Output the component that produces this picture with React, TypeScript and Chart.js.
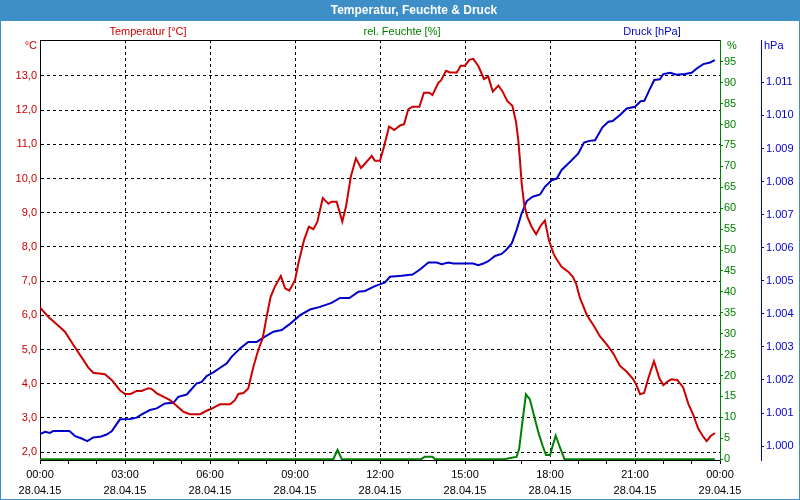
import React, { useEffect, useRef } from 'react';
import { Chart, registerables } from 'chart.js';

Chart.register(...registerables);

// ---------- data (time in hours since 28.04.15 00:00) ----------
const tempTimes = [0, 0.29, 0.59, 0.88, 1.18, 1.47, 1.7, 1.88, 2.29, 2.53, 2.82, 3.0, 3.2, 3.41, 3.59, 3.82, 3.94, 4.12, 4.35, 4.59, 4.76, 5.06, 5.29, 5.65, 5.88, 6.06, 6.35, 6.71, 6.88, 7.0, 7.18, 7.35, 7.53, 7.7, 7.86, 8.0, 8.14, 8.29, 8.5, 8.65, 8.8, 9.0, 9.12, 9.32, 9.49, 9.65, 9.79, 9.98, 10.18, 10.29, 10.47, 10.67, 10.8, 10.97, 11.15, 11.33, 11.53, 11.71, 11.82, 12.0, 12.14, 12.32, 12.5, 12.71, 12.85, 13.0, 13.15, 13.39, 13.55, 13.74, 13.85, 14.06, 14.15, 14.33, 14.47, 14.71, 14.85, 15.0, 15.15, 15.29, 15.47, 15.67, 15.82, 15.98, 16.18, 16.33, 16.49, 16.67, 16.8, 16.88, 16.94, 17.0, 17.09, 17.2, 17.35, 17.51, 17.67, 17.82, 17.96, 18.12, 18.21, 18.41, 18.65, 18.8, 18.92, 19.06, 19.3, 19.55, 19.76, 20.0, 20.23, 20.47, 20.71, 20.94, 21.05, 21.18, 21.32, 21.47, 21.67, 21.86, 22.0, 22.17, 22.29, 22.49, 22.7, 22.88, 23.06, 23.23, 23.39, 23.53, 23.67, 23.82];
const tempValues = [6.23, 5.96, 5.74, 5.52, 5.13, 4.77, 4.48, 4.32, 4.28, 4.11, 3.81, 3.7, 3.7, 3.79, 3.79, 3.87, 3.85, 3.72, 3.62, 3.52, 3.4, 3.18, 3.11, 3.11, 3.21, 3.27, 3.4, 3.4, 3.52, 3.7, 3.73, 3.86, 4.49, 4.98, 5.33, 5.96, 6.54, 6.84, 7.15, 6.79, 6.72, 7.03, 7.52, 8.2, 8.59, 8.52, 8.74, 9.43, 9.26, 9.32, 9.32, 8.74, 9.18, 10.05, 10.59, 10.31, 10.49, 10.66, 10.52, 10.52, 10.93, 11.52, 11.42, 11.55, 11.59, 12.03, 12.1, 12.1, 12.51, 12.51, 12.44, 12.8, 12.86, 13.15, 13.1, 13.1, 13.3, 13.3, 13.47, 13.5, 13.29, 12.91, 12.98, 12.54, 12.72, 12.54, 12.27, 12.13, 11.66, 11.13, 10.54, 9.86, 9.23, 8.88, 8.59, 8.37, 8.62, 8.77, 8.2, 7.81, 7.67, 7.42, 7.27, 7.13, 6.93, 6.5, 6.01, 5.69, 5.39, 5.15, 4.89, 4.52, 4.35, 4.13, 3.96, 3.69, 3.73, 4.16, 4.66, 4.16, 3.96, 4.08, 4.13, 4.11, 3.89, 3.42, 3.08, 2.69, 2.47, 2.32, 2.47, 2.56];

const pressTimes = [0, 0.18, 0.35, 0.47, 1.04, 1.24, 1.47, 1.67, 1.88, 2.12, 2.35, 2.53, 2.82, 3.18, 3.41, 3.59, 3.88, 4.12, 4.41, 4.71, 4.88, 5.18, 5.53, 5.71, 5.88, 6.12, 6.41, 6.59, 6.76, 7.06, 7.35, 7.65, 7.94, 8.24, 8.53, 8.8, 9.18, 9.53, 9.88, 10.29, 10.59, 10.92, 11.24, 11.47, 11.82, 12.18, 12.35, 12.76, 13.15, 13.41, 13.71, 14.0, 14.18, 14.41, 14.59, 15.29, 15.47, 15.65, 15.82, 16.06, 16.29, 16.45, 16.65, 16.82, 17.0, 17.18, 17.39, 17.65, 17.82, 18.06, 18.24, 18.41, 18.71, 19.0, 19.2, 19.39, 19.59, 19.85, 20.06, 20.21, 20.47, 20.71, 21.0, 21.2, 21.33, 21.53, 21.68, 21.88, 22.0, 22.24, 22.47, 22.76, 23.0, 23.18, 23.41, 23.65, 23.82];
const pressValues = [1000.36, 1000.43, 1000.4, 1000.46, 1000.46, 1000.3, 1000.23, 1000.15, 1000.26, 1000.28, 1000.35, 1000.45, 1000.81, 1000.82, 1000.86, 1000.96, 1001.09, 1001.14, 1001.29, 1001.31, 1001.49, 1001.56, 1001.9, 1001.94, 1002.12, 1002.23, 1002.4, 1002.5, 1002.7, 1002.95, 1003.15, 1003.15, 1003.31, 1003.46, 1003.51, 1003.68, 1003.96, 1004.13, 1004.21, 1004.33, 1004.48, 1004.48, 1004.67, 1004.69, 1004.84, 1004.95, 1005.12, 1005.15, 1005.19, 1005.34, 1005.55, 1005.55, 1005.5, 1005.55, 1005.52, 1005.52, 1005.47, 1005.52, 1005.59, 1005.75, 1005.81, 1005.93, 1006.13, 1006.53, 1007.04, 1007.41, 1007.54, 1007.61, 1007.84, 1008.04, 1008.09, 1008.35, 1008.6, 1008.85, 1009.18, 1009.23, 1009.25, 1009.64, 1009.81, 1009.83, 1010.01, 1010.21, 1010.26, 1010.43, 1010.44, 1010.81, 1011.07, 1011.09, 1011.25, 1011.29, 1011.23, 1011.25, 1011.29, 1011.42, 1011.55, 1011.6, 1011.67];

const humTimes = [0, 10.35, 10.5, 10.65, 13.45, 13.58, 13.85, 13.95, 16.4, 16.59, 16.82, 16.91, 17.03, 17.15, 17.29, 17.44, 17.59, 17.74, 17.86, 18.0, 18.06, 18.2, 18.33, 18.51, 23.82];
const humValues = [0, 0, 2.2, 0, 0, 0.55, 0.55, 0, 0, 0.3, 0.55, 2.4, 9.1, 15.5, 14.3, 10.3, 6.4, 3.2, 1.0, 1.0, 2.4, 5.6, 3.2, 0, 0];

// ---------- ticks & labels ----------
const hourTicks = [0, 3, 6, 9, 12, 15, 18, 21, 24];
const timeLabels = ['00:00', '03:00', '06:00', '09:00', '12:00', '15:00', '18:00', '21:00', '00:00'];
const dateLabels = ['28.04.15', '28.04.15', '28.04.15', '28.04.15', '28.04.15', '28.04.15', '28.04.15', '28.04.15', '29.04.15'];
const tempTicks = [2, 3, 4, 5, 6, 7, 8, 9, 10, 11, 12, 13];
const humTicks = [0, 5, 10, 15, 20, 25, 30, 35, 40, 45, 50, 55, 60, 65, 70, 75, 80, 85, 90, 95];
const pressTicks = [1000, 1001, 1002, 1003, 1004, 1005, 1006, 1007, 1008, 1009, 1010, 1011];

const TITLE = 'Temperatur, Feuchte & Druck';
const SERIES_LABELS = ['Temperatur [°C]', 'rel. Feuchte [%]', 'Druck [hPa]'];
const UNIT_LABELS = ['°C', '%', 'hPa'];

const RED = '#cc0000';
const GREEN = '#008000';
const BLUE = '#0000cc';
const BAR = '#3e8ec8';
const FONT = "'Liberation Sans', Arial, sans-serif";

const toPoints = (xs: number[], ys: number[]) => xs.map((x, i) => ({ x, y: ys[i] }));

const framePlugin = {
  id: 'frame',
  beforeDraw(chart: any) {
    const { ctx, width, height } = chart;
    ctx.save();
    ctx.fillStyle = '#ffffff';
    ctx.fillRect(0, 0, width, height);
    ctx.fillStyle = BAR;
    ctx.fillRect(0, 0, width, 21);
    ctx.fillRect(0, 0, 1, height);
    ctx.fillRect(width - 1, 0, 1, height);
    ctx.fillRect(0, height - 1, width, 1);
    ctx.restore();
  },
  afterDraw(chart: any) {
    const { ctx, chartArea } = chart;
    ctx.save();
    ctx.strokeStyle = '#000';
    ctx.lineWidth = 1;
    ctx.beginPath();
    ctx.moveTo(chartArea.left, chartArea.top + 0.5);
    ctx.lineTo(chartArea.right, chartArea.top + 0.5);
    ctx.stroke();

    ctx.textBaseline = 'middle';
    ctx.textAlign = 'center';
    ctx.font = `bold 12px ${FONT}`;
    ctx.fillStyle = '#ffffff';
    ctx.fillText(TITLE, 414, 11);

    ctx.font = `11px ${FONT}`;
    ctx.fillStyle = RED;
    ctx.fillText(SERIES_LABELS[0], 148, 32);
    ctx.fillStyle = GREEN;
    ctx.fillText(SERIES_LABELS[1], 402, 32);
    ctx.fillStyle = BLUE;
    ctx.fillText(SERIES_LABELS[2], 652, 32);

    ctx.textAlign = 'right';
    ctx.fillStyle = RED;
    ctx.fillText(UNIT_LABELS[0], 37, 46);
    ctx.textAlign = 'left';
    ctx.fillStyle = GREEN;
    ctx.fillText(UNIT_LABELS[1], 727, 46);
    ctx.fillStyle = BLUE;
    ctx.fillText(UNIT_LABELS[2], 764, 46);
    ctx.restore();
  },
};

export default function App() {
  const ref = useRef<HTMLCanvasElement>(null);

  useEffect(() => {
    if (!ref.current) return;
    const tickFont = { family: FONT, size: 11 };
    const chart = new Chart(ref.current, {
      type: 'line',
      data: {
        datasets: [
          {
            label: SERIES_LABELS[0],
            data: toPoints(tempTimes, tempValues),
            borderColor: RED,
            yAxisID: 'yT',
          },
          {
            label: SERIES_LABELS[1],
            data: toPoints(humTimes, humValues),
            borderColor: GREEN,
            yAxisID: 'yH',
          },
          {
            label: SERIES_LABELS[2],
            data: toPoints(pressTimes, pressValues),
            borderColor: BLUE,
            yAxisID: 'yP',
          },
        ],
      },
      options: {
        responsive: false,
        animation: false,
        devicePixelRatio: 1,
        layout: { padding: { top: 40, left: 0, right: 0, bottom: 0 } },
        elements: {
          point: { radius: 0 },
          line: { borderWidth: 2, tension: 0, fill: false },
        },
        plugins: {
          legend: { display: false },
          title: { display: false },
          tooltip: { enabled: false },
        },
        scales: {
          x: {
            type: 'linear',
            position: 'bottom',
            min: 0,
            max: 24,
            afterBuildTicks: (axis: any) => {
              const t = [];
              for (let h = 0; h <= 24; h++) t.push({ value: h });
              axis.ticks = t;
            },
            afterFit: (axis: any) => {
              axis.height = 40;
            },
            ticks: {
              autoSkip: false,
              maxRotation: 0,
              minRotation: 0,
              padding: 3,
              color: '#000',
              font: { ...tickFont, lineHeight: '16px' },
              callback: (v: any) => {
                const i = hourTicks.indexOf(Number(v));
                return i >= 0 ? [timeLabels[i], dateLabels[i]] : '';
              },
            },
            grid: {
              color: (c: any) => {
                const v = c.tick ? c.tick.value : -1;
                return v % 3 === 0 && v > 0 && v < 24 ? '#000' : 'rgba(0,0,0,0)';
              },
              lineWidth: 1,
              drawTicks: true,
              tickLength: 4,
              tickColor: '#000',
            },
            border: { display: true, color: '#000', width: 1, dash: [3, 3] },
          },
          yT: {
            type: 'linear',
            position: 'left',
            min: 1.77,
            max: 14.05,
            afterBuildTicks: (axis: any) => {
              axis.ticks = tempTicks.map((v) => ({ value: v }));
            },
            afterFit: (axis: any) => {
              axis.width = 40;
            },
            ticks: {
              color: RED,
              padding: 3,
              font: tickFont,
              callback: (v: any) => Number(v).toFixed(1).replace('.', ','),
            },
            grid: { color: '#000', lineWidth: 1, drawTicks: false, drawOnChartArea: true },
            border: { display: true, color: '#000', width: 1, dash: [3, 3] },
          },
          yH: {
            type: 'linear',
            position: 'right',
            weight: 0,
            min: -0.2,
            max: 100.2,
            afterBuildTicks: (axis: any) => {
              axis.ticks = humTicks.map((v) => ({ value: v }));
            },
            afterFit: (axis: any) => {
              axis.width = 41;
            },
            ticks: { color: GREEN, padding: 1, font: tickFont, callback: (v: any) => String(v) },
            grid: { drawOnChartArea: false, drawTicks: true, tickLength: 3, tickColor: GREEN, color: GREEN },
            border: { display: true, color: GREEN, width: 1 },
          },
          yP: {
            type: 'linear',
            position: 'right',
            weight: 1,
            min: 999.58,
            max: 1012.28,
            afterBuildTicks: (axis: any) => {
              axis.ticks = pressTicks.map((v) => ({ value: v }));
            },
            afterFit: (axis: any) => {
              axis.width = 39;
            },
            ticks: {
              color: BLUE,
              padding: 2,
              font: tickFont,
              callback: (v: any) => {
                const n = Math.round(Number(v));
                return `${Math.floor(n / 1000)}.${String(n % 1000).padStart(3, '0')}`;
              },
            },
            grid: { drawOnChartArea: false, drawTicks: true, tickLength: 3, tickColor: BLUE, color: BLUE },
            border: { display: true, color: BLUE, width: 1 },
          },
        },
      } as any,
      plugins: [framePlugin],
    });
    return () => chart.destroy();
  }, []);

  return (
    <div style={{ position: 'fixed', left: 0, top: 0, width: 800, height: 500, background: '#fff' }}>
      <canvas ref={ref} width={800} height={500} style={{ display: 'block', width: 800, height: 500 }} />
    </div>
  );
}
